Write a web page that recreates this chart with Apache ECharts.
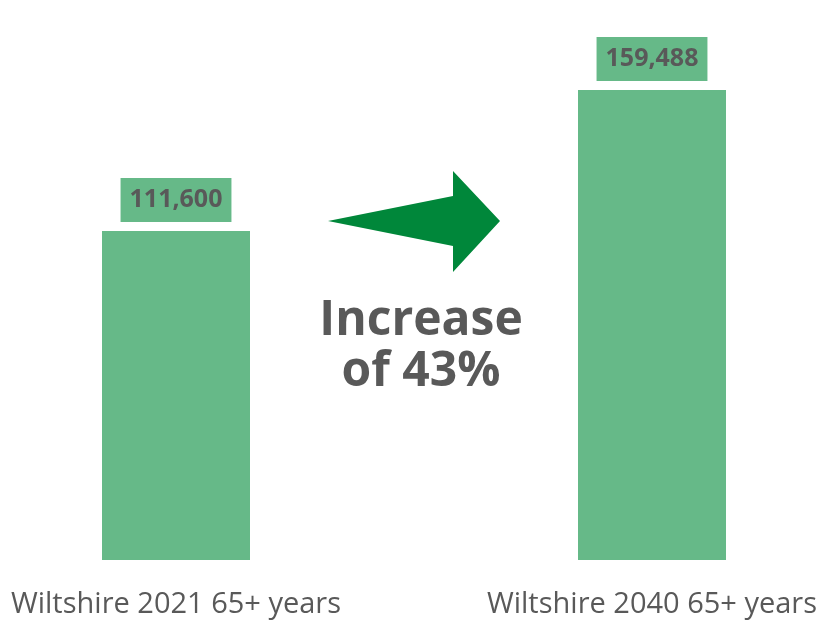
<!DOCTYPE html>
<html><head><meta charset="utf-8">
<script src="https://cdn.jsdelivr.net/npm/echarts@6/dist/echarts.min.js"></script>
<style>html,body{margin:0;padding:0;background:#fff}#c{width:833px;height:627px}</style>
</head><body><div id="c"></div>
<script>
var categories = ['Wiltshire 2021 65+ years', 'Wiltshire 2040 65+ years'];
var values = [111600, 159488];
var annotation = ['Increase', 'of 43%'];

var barColor = '#66b988';
var textColor = '#595959';
var chart = echarts.init(document.getElementById('c'));
chart.setOption({
  animation: false,
  grid: { left: 176, right: 181, top: 90, bottom: 67 },
  xAxis: {
    type: 'category', data: categories, boundaryGap: false,
    axisLine: { show: false }, axisTick: { show: false },
    axisLabel: { color: textColor, fontFamily: 'Open Sans', fontSize: 29, margin: 30, interval: 0 }
  },
  yAxis: {
    type: 'value', min: 0, max: function (v) { return v.max; },
    show: false, splitLine: { show: false }
  },
  series: [{
    type: 'bar', data: values, barWidth: 148, clip: false,
    itemStyle: { color: barColor },
    label: {
      show: true, position: 'top', distance: 9,
      formatter: function (p) { return p.value.toLocaleString('en-US'); },
      backgroundColor: barColor, color: textColor,
      fontFamily: 'Open Sans', fontWeight: 'bold', fontSize: 25,
      lineHeight: 28, padding: [8, 9, 8, 9]
    }
  }],
  graphic: [
    { type: 'polygon', shape: { points: [[328, 221], [453, 196], [453, 171], [500, 221], [453, 272], [453, 246]] },
      style: { fill: '#00873a' } },
    { type: 'text', style: {
        text: annotation.join('\n'), x: 421, y: 296, textAlign: 'center',
        fill: textColor, font: 'bold 48px "Open Sans"', lineHeight: 51 } }
  ]
});
</script></body></html>
